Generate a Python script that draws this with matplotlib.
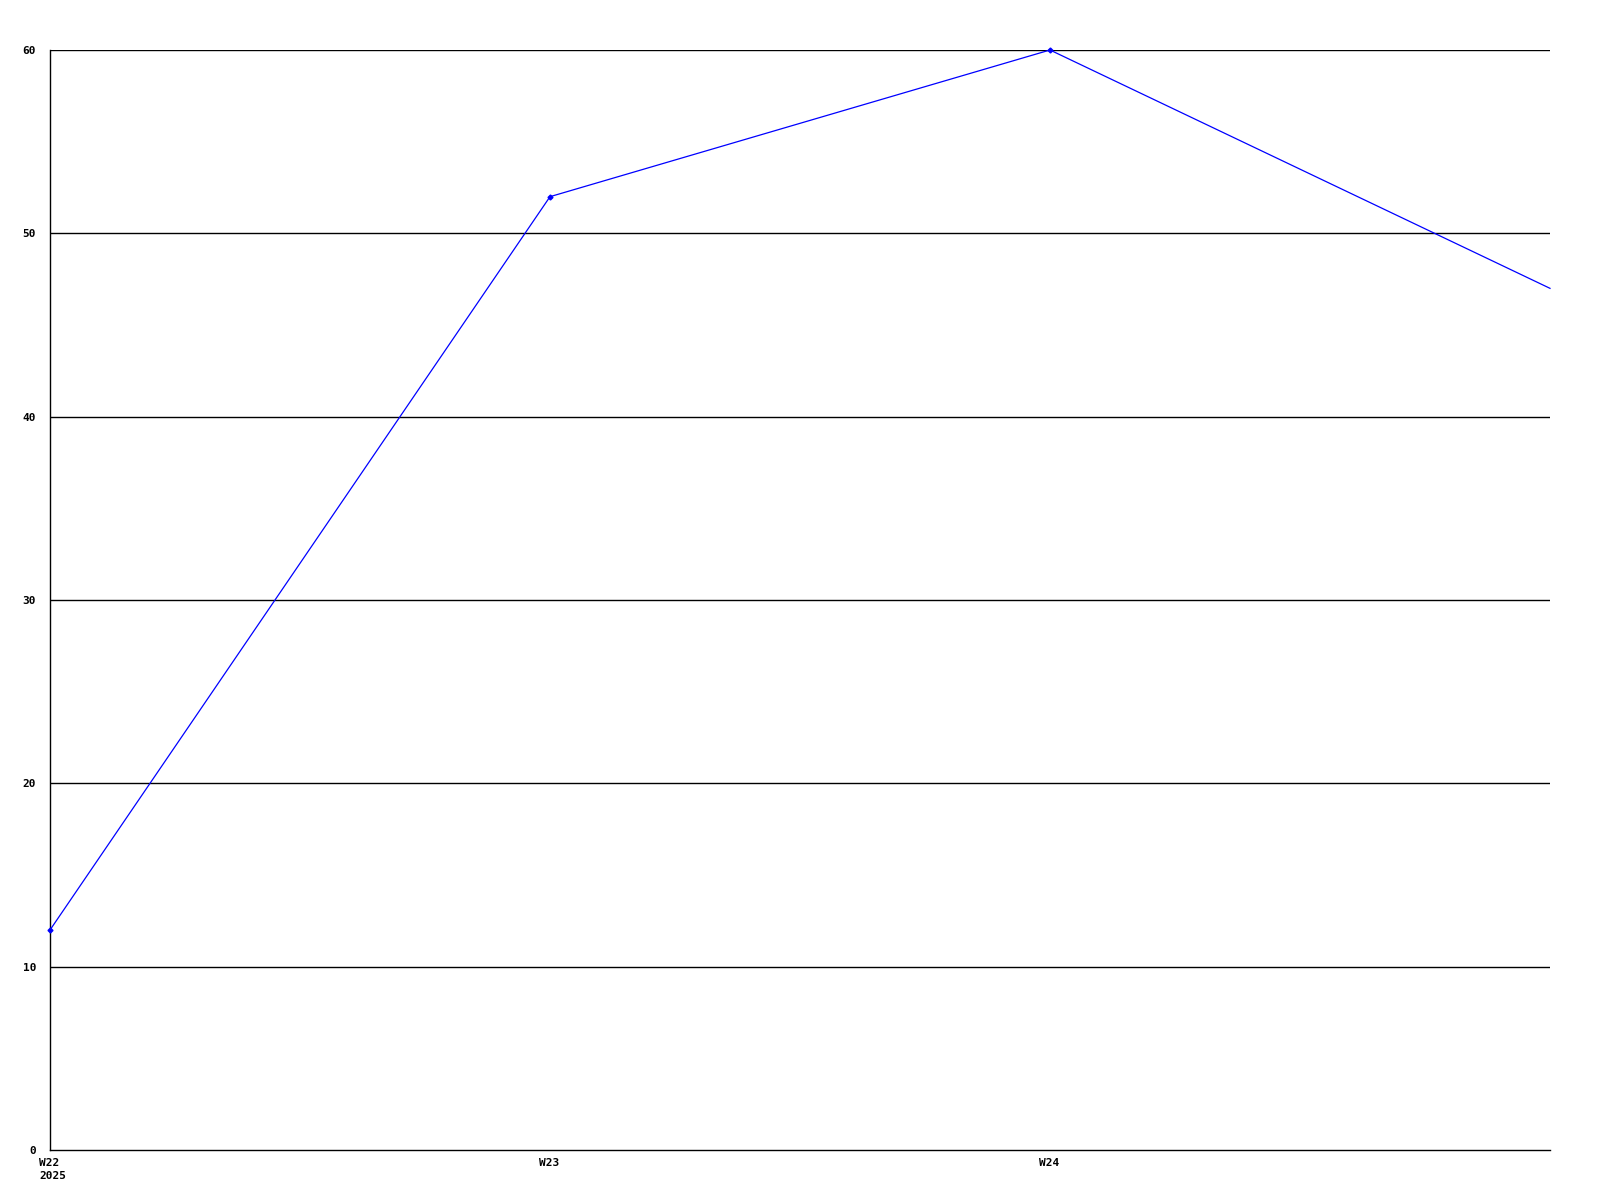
import matplotlib
matplotlib.use("Agg")
import matplotlib.pyplot as plt
import matplotlib.transforms as mtrans

weeks = ["W22\n2025", "W23", "W24", ""]
values = [12, 52, 60, 47]
yticks = [0, 10, 20, 30, 40, 50, 60]

fig = plt.figure(figsize=(16, 12), dpi=100)
ax = fig.add_axes([50 / 1600, 50 / 1200, 1500 / 1600, 1100 / 1200])

x = list(range(len(values)))
# last point sits on the right edge and has no marker in the original
ax.plot(x, values, color="#0000ff", lw=0.9, marker="D", ms=2.5, mec="#0000ff",
        mfc="#0000ff", markevery=[0, 1, 2], clip_on=False, zorder=3)

ax.set_xlim(0, len(values) - 1)
ax.set_ylim(0, 60)
ax.set_yticks(yticks)
for y in yticks[1:]:
    ax.axhline(y, color="black", lw=1, zorder=1)

ax.set_xticks(x)
ax.set_xticklabels(weeks, ha="left", va="top", linespacing=1.3)
ax.tick_params(axis="both", length=0, labelsize=8)
ax.tick_params(axis="x", pad=6)
ax.tick_params(axis="y", pad=10)
for lab in ax.get_xticklabels() + ax.get_yticklabels():
    lab.set_fontfamily("DejaVu Sans Mono")
    lab.set_fontweight("bold")

# x labels start slightly left of their tick
offset = mtrans.ScaledTranslation(-11 / 100, 0, fig.dpi_scale_trans)
for lab in ax.get_xticklabels():
    lab.set_transform(lab.get_transform() + offset)

for side in ["top", "right"]:
    ax.spines[side].set_visible(False)
for side in ["left", "bottom"]:
    ax.spines[side].set_linewidth(1)
    ax.spines[side].set_color("black")

fig.savefig("out.png", dpi=100)
